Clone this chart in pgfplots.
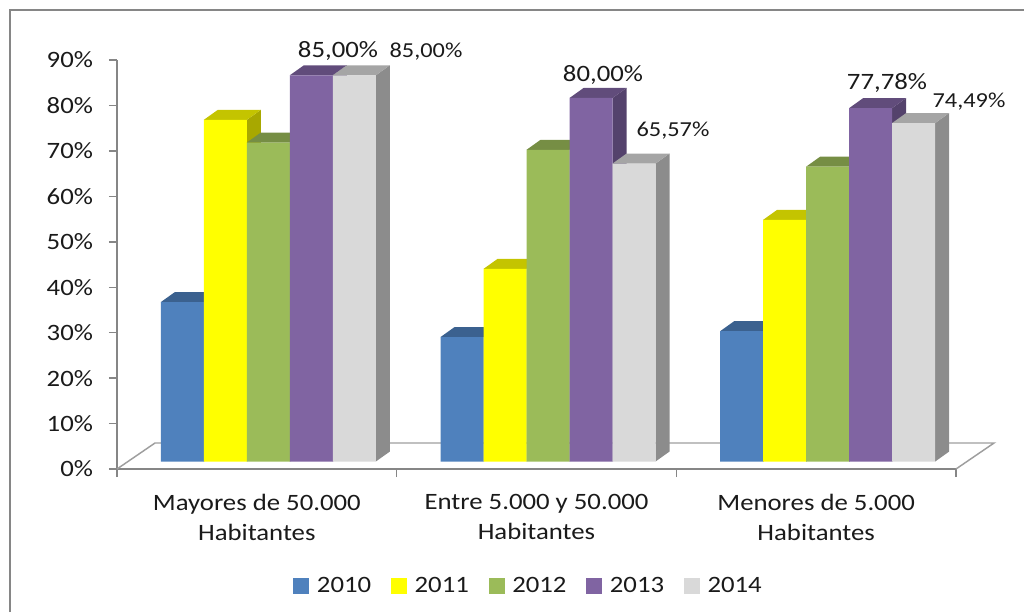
\documentclass[border=0pt]{standalone}
\usepackage{fontspec}
\setmainfont{Carlito}[FakeStretch=1.14]
\usepackage{pgfplots}
\pgfplotsset{compat=1.18}
\definecolor{axisgray}{HTML}{868686}
\definecolor{txt}{HTML}{1A1A1A}
% front / top / side of each series
\definecolor{fA}{HTML}{4F81BD}\definecolor{tA}{HTML}{3B618F}\definecolor{sA}{HTML}{34567E}
\definecolor{fB}{HTML}{FFFF00}\definecolor{tB}{HTML}{C4C400}\definecolor{sB}{HTML}{A8A800}
\definecolor{fC}{HTML}{9BBB59}\definecolor{tC}{HTML}{768E44}\definecolor{sC}{HTML}{6A7F3B}
\definecolor{fD}{HTML}{8064A2}\definecolor{tD}{HTML}{614C7B}\definecolor{sD}{HTML}{54426C}
\definecolor{fE}{HTML}{D9D9D9}\definecolor{tE}{HTML}{A5A5A5}\definecolor{sE}{HTML}{8C8C8C}

% group, series position, value, colour letter
\newcommand{\bardd}[4]{%
  \pgfmathsetmacro\xa{#1+0.157+#2*0.1537}%
  \pgfmathsetmacro\xb{\xa+0.1537}%
  \pgfmathsetmacro\xc{\xb+0.0501}%
  \pgfmathsetmacro\xd{\xa+0.0501}%
  \pgfmathsetmacro\yt{#3+2.2}%
  \addplot[forget plot,fill=s#4,draw=none,yshift=5.6pt] coordinates {(\xb,0) (\xc,2.2) (\xc,\yt) (\xb,#3) (\xb,0)};
  \addplot[forget plot,fill=t#4,draw=none,yshift=5.6pt] coordinates {(\xa,#3) (\xb,#3) (\xc,\yt) (\xd,\yt) (\xa,#3)};
  \addplot[forget plot,fill=f#4,draw=none,yshift=5.6pt] coordinates {(\xa,0) (\xb,0) (\xb,#3) (\xa,#3) (\xa,0)};
}

\begin{document}
\begin{tikzpicture}
\begin{axis}[
    scale only axis,
    width=629.25pt,
    height=306.75pt,
    xmin=0, xmax=3,
    ymin=0, ymax=90,
    clip=false,
    axis x line*=bottom,
    axis y line*=left,
    axis line style={axisgray,line width=1.1pt,-},
    tick style={axisgray,line width=1.1pt},
    tick align=outside,
    major tick length=6pt,
    minor tick length=6pt,
    ytick={0,10,20,30,40,50,60,70,80,90},
    yticklabels={0\%,10\%,20\%,30\%,40\%,50\%,60\%,70\%,80\%,90\%},
    xtick={0.5,1.5,2.5},
    major x tick style={draw=none},
    minor xtick={0,1,2,3},
    xticklabels={{Mayores de 50.000\\Habitantes},{Entre 5.000 y 50.000\\Habitantes},{Menores de 5.000\\Habitantes}},
    x tick label style={align=center,font=\fontsize{17.6pt}{22.5pt}\selectfont,text=txt,yshift=-9.5pt},
    y tick label style={font=\fontsize{17.6pt}{20pt}\selectfont,text=txt,xshift=-8.5pt},
    legend columns=5,
    legend cell align=left,
    legend image code/.code={\fill[#1] (0pt,-5.6pt) rectangle (11.25pt,5.6pt);},
    legend style={draw=none,fill=none,at={(0.491,-0.286)},anchor=center,font=\fontsize{17.6pt}{20pt}\selectfont\color{txt},
        /tikz/every even column/.append style={column sep=12.9pt},
        /tikz/every odd column/.append style={column sep=4pt}},
]
% floor
\addplot[forget plot,color=axisgray!80,line width=1.1pt] coordinates {(0,0) (0.1359,5.72) (3.1359,5.72) (3,0)};

\bardd{0}{0}{35.1}{A}
\bardd{0}{1}{75.2}{B}
\bardd{0}{2}{70.2}{C}
\bardd{0}{3}{85.0}{D}
\bardd{0}{4}{85.0}{E}

\bardd{1}{0}{27.4}{A}
\bardd{1}{1}{42.4}{B}
\bardd{1}{2}{68.6}{C}
\bardd{1}{3}{80.0}{D}
\bardd{1}{4}{65.57}{E}

\bardd{2}{0}{28.7}{A}
\bardd{2}{1}{53.2}{B}
\bardd{2}{2}{64.9}{C}
\bardd{2}{3}{77.78}{D}
\bardd{2}{4}{74.49}{E}

\addlegendimage{fA}\addlegendentry{2010}
\addlegendimage{fB}\addlegendentry{2011}
\addlegendimage{fC}\addlegendentry{2012}
\addlegendimage{fD}\addlegendentry{2013}
\addlegendimage{fE}\addlegendentry{2014}
\end{axis}
% image pixel coordinates from here on
\begin{scope}[shift={(-87.75pt,351.75pt)},x=0.75pt,y=-0.75pt]
  \draw[axisgray,line width=1.9pt] (10,612) -- (10,10) -- (1024,10);
  \tikzset{big/.style={font=\fontsize{17.6pt}{20pt}\selectfont,text=txt,inner sep=0pt},
           small/.style={font=\fontsize{16pt}{18pt}\selectfont,text=txt,inner sep=0pt}}
  \node[big]   at (338,50.5)  {85,00\%};
  \node[small] at (426,51.5)  {85,00\%};
  \node[big]   at (603,74.5)  {80,00\%};
  \node[small] at (673,130.5) {65,57\%};
  \node[big]   at (887,82.5)  {77,78\%};
  \node[small] at (969,101.5) {74,49\%};
  \pgfresetboundingbox
  \path[use as bounding box] (0,0) rectangle (1024,612);
\end{scope}
\end{tikzpicture}
\end{document}
